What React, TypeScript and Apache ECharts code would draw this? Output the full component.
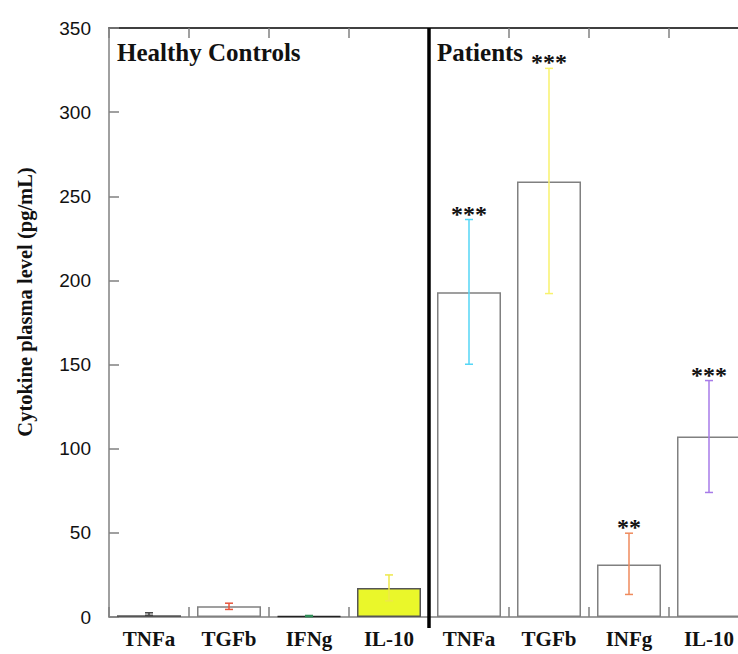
import React, { useEffect, useRef } from "react";
import * as echarts from "echarts";

// ---- data ----
const categories = ["TNFa", "TGFb", "IFNg", "IL-10", "TNFa", "TGFb", "INFg", "IL-10"];
const means = [1, 6.4, 0.6, 17.3, 193, 258.8, 31.2, 107.2];
const errLow = [1, 4.5, 0.2, 9.6, 150.2, 192.2, 13.4, 74];
const errHigh = [2.5, 8.2, 0.9, 25, 236.2, 326, 49.8, 140.5];
const significance = ["", "", "", "", "***", "***", "**", "***"];
const groupLabels = ["Healthy Controls", "Patients"];
const dividerAfter = 3; // boundary after this category index
const yMin = 0;
const yMax = 350;
const yInterval = 50;

// ---- styles ----
const barFills = ["#555555", "#ffffff", "#222222", "#eaf72a", "#ffffff", "#ffffff", "#ffffff", "#ffffff"];
const barBorders = ["#555555", "#808080", "#222222", "#555555", "#808080", "#808080", "#808080", "#808080"];
const errColors = ["#444444", "#e8553b", "#2e8b57", "#eee84a", "#55d6f6", "#f8f26c", "#ef8a5c", "#a77be8"];
const SERIF = '"Liberation Serif", "Times New Roman", serif';
const SANS = '"Liberation Sans", Arial, sans-serif';
const GRAY = "#808080";

export default function App() {
  const ref = useRef<HTMLDivElement>(null);

  useEffect(() => {
    if (!ref.current) return;
    const chart = echarts.init(ref.current, undefined, { renderer: "svg" });

    const option: any = {
      animation: false,
      backgroundColor: "#ffffff",
      grid: { left: 109, top: 28, bottom: 37, right: 11, containLabel: false },
      xAxis: [
        {
          type: "category",
          data: categories,
          position: "bottom",
          boundaryGap: true,
          axisLine: { show: true, lineStyle: { color: GRAY, width: 1.5 } },
          axisTick: { show: true, inside: true, length: 10, alignWithLabel: false, lineStyle: { color: GRAY, width: 1.5 } },
          axisLabel: {
            show: true,
            interval: 0,
            margin: 11,
            color: "#111",
            fontFamily: SERIF,
            fontWeight: "bold",
            fontSize: 21,
          },
          splitLine: { show: false },
        },
        {
          type: "category",
          data: categories,
          position: "top",
          boundaryGap: true,
          axisLine: { show: true, lineStyle: { color: "#000", width: 1.5 } },
          axisTick: { show: true, inside: true, length: 10, lineStyle: { color: GRAY, width: 1.5 } },
          axisLabel: { show: false },
          splitLine: { show: false },
        },
      ],
      yAxis: {
        type: "value",
        min: yMin,
        max: yMax,
        interval: yInterval,
        axisLine: { show: true, lineStyle: { color: GRAY, width: 1.5 } },
        axisTick: { show: true, inside: true, length: 10, lineStyle: { color: GRAY, width: 1.5 } },
        axisLabel: {
          margin: 18,
          color: "#111",
          fontFamily: SANS,
          fontSize: 19,
          padding: [0, 0, 9, 0],
        },
        splitLine: { show: false },
      },
      graphic: [
        {
          type: "text",
          x: 25,
          y: 302,
          rotation: Math.PI / 2,
          style: {
            text: "Cytokine plasma level (pg/mL)",
            fontFamily: SERIF,
            fontWeight: "bold",
            fontSize: 20.5,
            fill: "#111",
            align: "center",
            verticalAlign: "middle",
          },
        },
        {
          type: "text",
          x: 117,
          y: 52,
          style: {
            text: groupLabels[0],
            fontFamily: SERIF,
            fontWeight: "bold",
            fontSize: 25,
            fill: "#111",
            align: "left",
            verticalAlign: "middle",
          },
        },
        {
          type: "text",
          x: 437,
          y: 52,
          style: {
            text: groupLabels[1],
            fontFamily: SERIF,
            fontWeight: "bold",
            fontSize: 25,
            fill: "#111",
            align: "left",
            verticalAlign: "middle",
          },
        },
      ],
      series: [
        {
          type: "bar",
          xAxisIndex: 0,
          barCategoryGap: "20%",
          data: means.map((v, i) => ({
            value: v,
            itemStyle: { color: barFills[i], borderColor: barBorders[i], borderWidth: 1.5 },
          })),
          z: 2,
        },
        {
          type: "custom",
          xAxisIndex: 0,
          z: 5,
          clip: false,
          data: means.map((_, i) => [i, errLow[i], errHigh[i]]),
          encode: { x: 0, y: [1, 2] },
          renderItem: (params: any, api: any) => {
            const i = api.value(0);
            const lo = api.coord([i, api.value(1)]);
            const hi = api.coord([i, api.value(2)]);
            const cap = 4;
            const color = errColors[i];
            const st = { stroke: color, lineWidth: 1.5 };
            const children: any[] = [
              { type: "line", shape: { x1: hi[0], y1: hi[1], x2: lo[0], y2: lo[1] }, style: st },
              { type: "line", shape: { x1: hi[0] - cap, y1: hi[1], x2: hi[0] + cap, y2: hi[1] }, style: st },
              { type: "line", shape: { x1: lo[0] - cap, y1: lo[1], x2: lo[0] + cap, y2: lo[1] }, style: st },
            ];
            if (significance[i]) {
              children.push({
                type: "text",
                x: hi[0],
                y: hi[1] - 6,
                style: {
                  text: significance[i],
                  fontFamily: SERIF,
                  fontWeight: "bold",
                  fontSize: 24,
                  fill: "#111",
                  align: "center",
                  verticalAlign: "middle",
                },
              });
            }
            return { type: "group", children };
          },
        },
        {
          type: "custom",
          xAxisIndex: 0,
          z: 6,
          clip: false,
          data: [[dividerAfter, yMin, yMax]],
          encode: { x: 0, y: [1, 2] },
          renderItem: (params: any, api: any) => {
            const i = api.value(0);
            const bw = api.size([1, 0])[0];
            const bottom = api.coord([i, api.value(1)]);
            const top = api.coord([i, api.value(2)]);
            const x = bottom[0] + bw / 2;
            return {
              type: "line",
              shape: { x1: x, y1: top[1], x2: x, y2: bottom[1] + 11 },
              style: { stroke: "#000", lineWidth: 3.5 },
            };
          },
        },
      ],
    };

    chart.setOption(option);
    return () => chart.dispose();
  }, []);

  return (
    <div
      ref={ref}
      style={{ position: "fixed", left: 0, top: 0, width: 760, height: 654, background: "#fff" }}
    />
  );
}
